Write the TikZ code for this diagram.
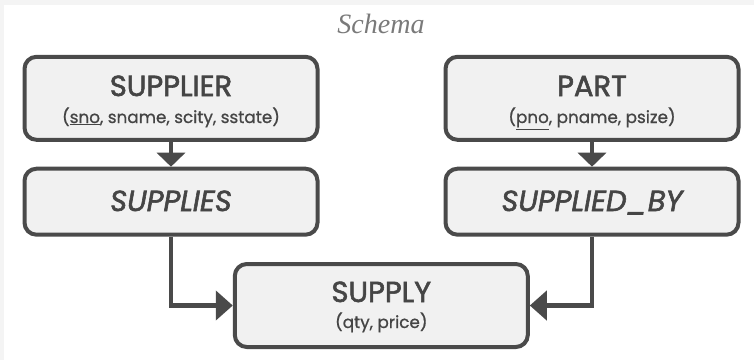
\documentclass[tikz,border=0pt]{standalone}
\usepackage{fontspec}
\setmainfont{Poppins}
\newfontfamily\headfont{Poppins}[FakeBold=2]
\newfontfamily\attrfont{Poppins}[FakeBold=0.8]
\newfontfamily\titlefont{Liberation Serif}
\usetikzlibrary{arrows.meta}
\definecolor{edge}{HTML}{4A4A4A}
\definecolor{boxfill}{HTML}{F1F1F1}
\definecolor{ink}{HTML}{454545}
\definecolor{titlegray}{HTML}{7A7A7A}
\definecolor{frame}{HTML}{F4F4F4}
\tikzset{
  relbox/.style={draw=edge, fill=boxfill, line width=4pt, rounded corners=12pt,
    minimum width=293pt, align=center, inner sep=0pt},
  entity/.style={relbox, minimum height=83pt},
  rel/.style={relbox, minimum height=66pt},
  link/.style={draw=edge, line width=4.5pt},
  downtip/.style={-{Triangle[length=14pt 0 0, width=28pt 0 0]}},
  sidetip/.style={-{Triangle[length=17pt 0 0, width=29pt 0 0]}},
  head/.style={text=ink, anchor=base, inner sep=0pt, font=\headfont\fontsize{29}{31}\selectfont},
  attrs/.style={text=ink, anchor=base, inner sep=0pt, font=\attrfont\fontsize{16.8}{18}\selectfont},
}
\begin{document}
\begin{tikzpicture}[x=1pt, y=-1pt]
  % page margins and background
  \fill[frame] (0,0) rectangle (754,360);
  \fill[white] (4,5) rectangle (754,360);
  \useasboundingbox (0,0) rectangle (754,360);

  \node[text=titlegray, font=\titlefont\itshape\fontsize{28}{30}\selectfont, anchor=base] (title) at (381,33) {Schema};

  \node[entity] (supplier) at (171,98.3) {};
  \node[head] (supplierName) at (171,96) {SUPPLIER};
  \node[attrs] (supplierAttr) at (171,123) {(\underline{sno}, sname, scity, sstate)};

  \node[entity] (part) at (592,98.3) {};
  \node[head] (partName) at (592,96) {PART};
  \node[attrs] (partAttr) at (592,123) {(\underline{pno}, pname, psize)};

  \node[rel] (supplies) at (171,201.7) {};
  \node[head] (suppliesName) at (171,211) {\itshape SUPPLIES};

  \node[rel] (suppliedby) at (592,201.7) {};
  \node[head] (suppliedbyName) at (592,211) {\itshape SUPPLIED\_BY};

  \node[entity] (supply) at (381.3,305.5) {};
  \node[head] (supplyName) at (381.3,302) {SUPPLY};
  \node[attrs] (supplyAttr) at (381.3,328) {(qty, price)};

  % connectors
  \draw[link, downtip] (supplier.south) -- (supplies.north);
  \draw[link, downtip] (part.south) -- (suppliedby.north);
  \draw[link, sidetip] (supplies.south) |- (supply.west);
  \draw[link, sidetip] (suppliedby.south) |- (supply.east);
\end{tikzpicture}
\end{document}
